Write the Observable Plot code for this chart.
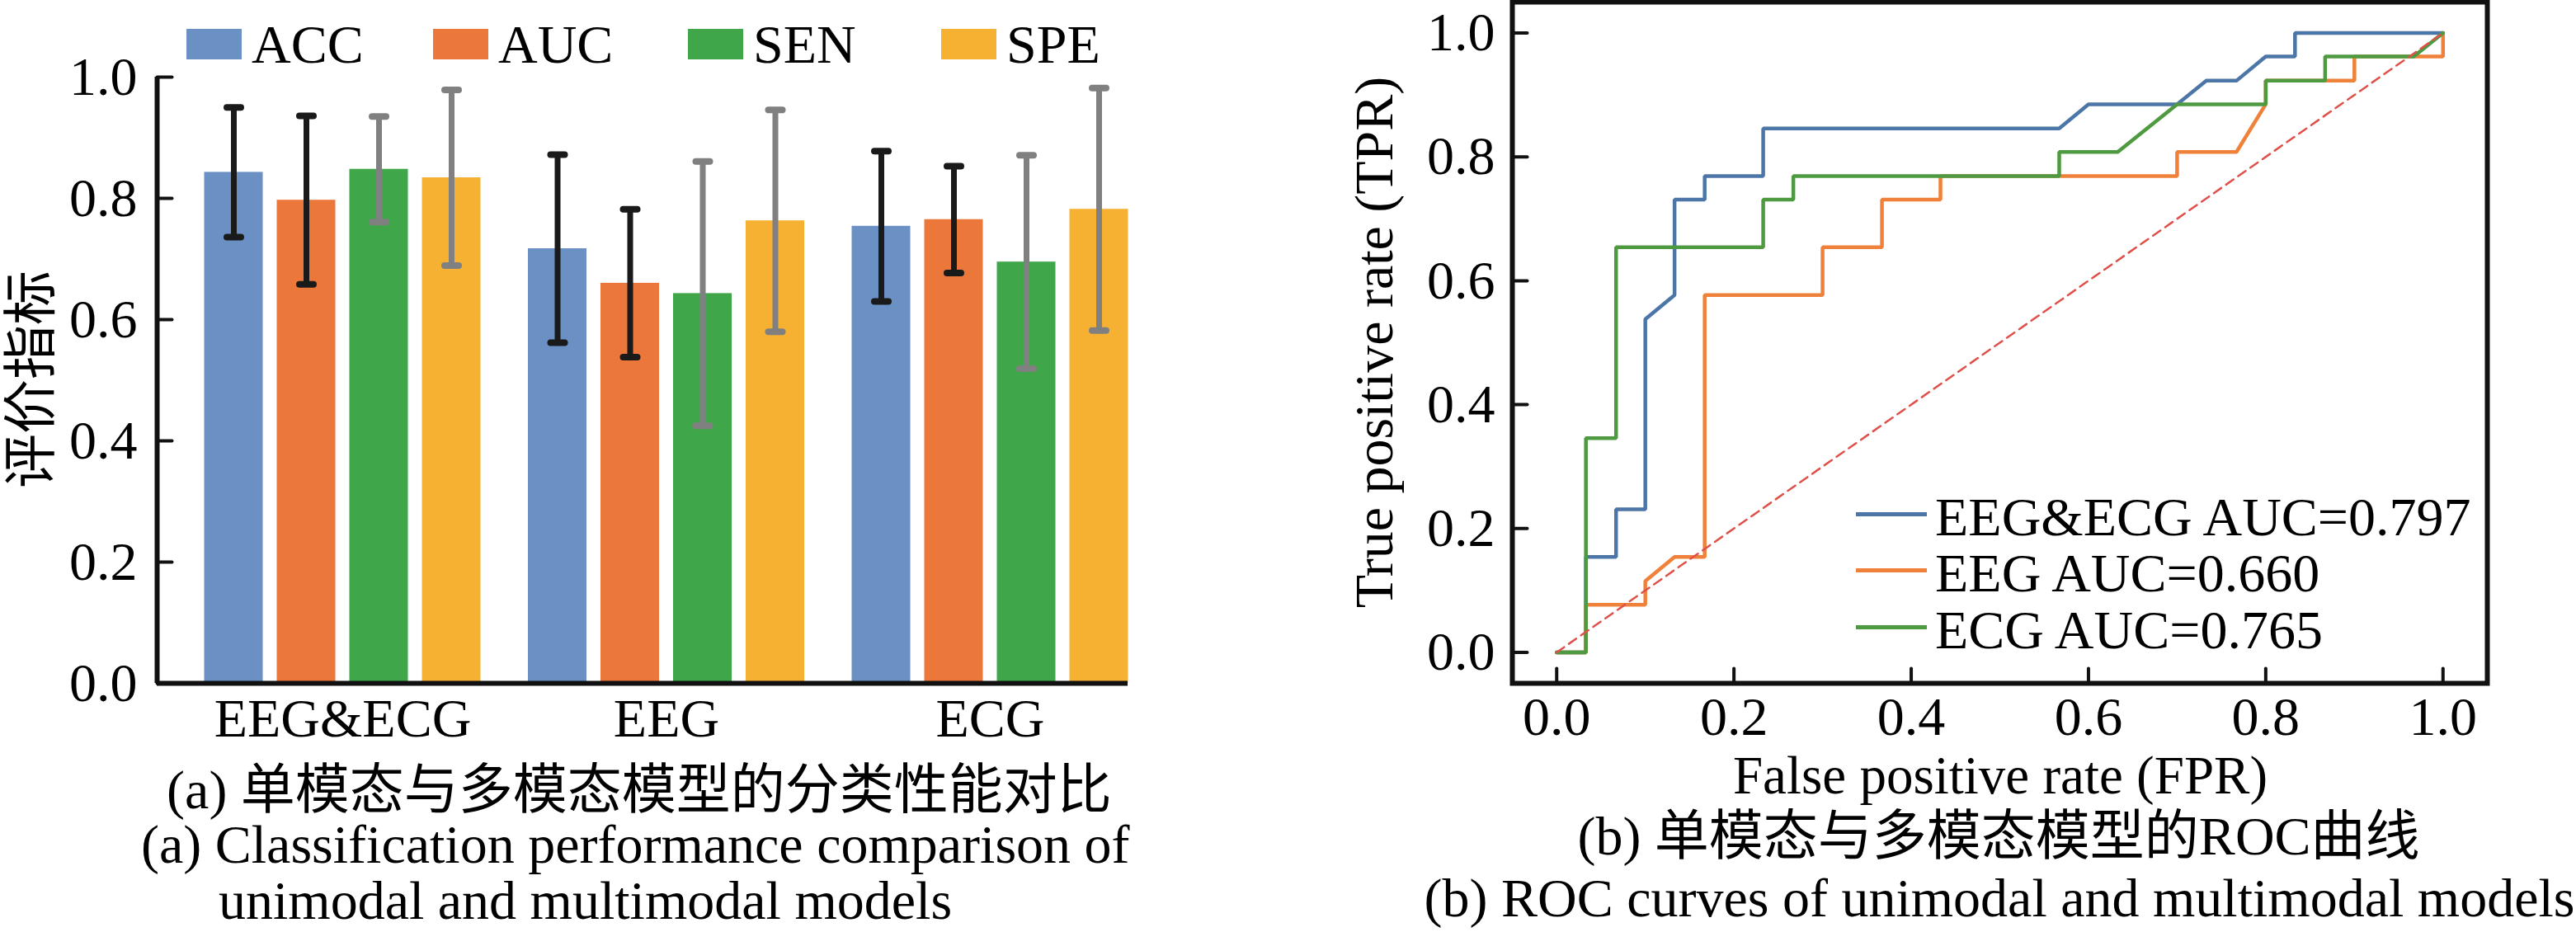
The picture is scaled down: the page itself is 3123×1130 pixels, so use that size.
<!DOCTYPE html>
<html>
<head>
<meta charset="utf-8">
<script src="https://cdn.jsdelivr.net/npm/d3@7"></script>
<script src="https://cdn.jsdelivr.net/npm/@observablehq/plot@0.6"></script>
<style>
html,body{margin:0;padding:0;background:#fff;}
#page{position:relative;width:3123px;height:1130px;overflow:hidden;font-family:"Liberation Serif","Noto Sans CJK SC",serif;color:#000;background:#fff;}
.t{position:absolute;white-space:nowrap;font-size:66px;line-height:50px;}
.chart{position:absolute;top:0;}
.patch{position:absolute;}
</style>
</head>
<body>
<div id="page">
  <div id="left" class="chart" style="left:0px"></div>
  <div id="right" class="chart" style="left:1600px"></div>
</div>
<script>
// ---------------- data: bar chart ----------------
const groups = ["EEG&ECG", "EEG", "ECG"];
const metrics = ["ACC", "AUC", "SEN", "SPE"];
const acc    = [0.843, 0.717, 0.754];
const accErr = [0.107, 0.155, 0.124];
const auc    = [0.797, 0.660, 0.765];
const aucErr = [0.139, 0.122, 0.088];
const sen    = [0.848, 0.643, 0.695];
const senErr = [0.087, 0.218, 0.176];
const spe    = [0.834, 0.763, 0.782];
const speErr = [0.145, 0.183, 0.200];
const barTicks = [0, 0.2, 0.4, 0.6, 0.8, 1.0];

// ---------------- data: ROC curves ----------------
const models = ["EEG&ECG", "EEG", "ECG"];
const aucLabels = ["0.797", "0.660", "0.765"];
const fprEEGECG = [0, 0.033, 0.033, 0.067, 0.067, 0.1, 0.1, 0.133, 0.133, 0.167, 0.167, 0.233, 0.233, 0.567, 0.6, 0.7, 0.733, 0.767, 0.8, 0.833, 0.833, 1.0];
const tprEEGECG = [0, 0, 0.154, 0.154, 0.231, 0.231, 0.538, 0.577, 0.731, 0.731, 0.769, 0.769, 0.846, 0.846, 0.885, 0.885, 0.923, 0.923, 0.962, 0.962, 1.0, 1.0];
const fprEEG = [0, 0.033, 0.033, 0.1, 0.1, 0.133, 0.167, 0.167, 0.3, 0.3, 0.367, 0.367, 0.433, 0.433, 0.7, 0.7, 0.767, 0.8, 0.8, 0.9, 0.9, 1.0, 1.0];
const tprEEG = [0, 0, 0.077, 0.077, 0.115, 0.154, 0.154, 0.577, 0.577, 0.654, 0.654, 0.731, 0.731, 0.769, 0.769, 0.808, 0.808, 0.885, 0.923, 0.923, 0.962, 0.962, 1.0];
const fprECG = [0, 0.033, 0.033, 0.067, 0.067, 0.233, 0.233, 0.267, 0.267, 0.567, 0.567, 0.633, 0.7, 0.8, 0.8, 0.867, 0.867, 0.967, 1.0];
const tprECG = [0, 0, 0.346, 0.346, 0.654, 0.654, 0.731, 0.731, 0.769, 0.769, 0.808, 0.808, 0.885, 0.885, 0.923, 0.923, 0.962, 0.962, 1.0];
const chance = [0, 1];
const rocTicks = [0, 0.2, 0.4, 0.6, 0.8, 1.0];

// ---------------- styles ----------------
const barColors = ["#6b90c3", "#ec773b", "#40a64a", "#f6b133"];
const errColors = ["#1a1a1a", "#1a1a1a", "#808080", "#808080"];
const lineColors = ["#4d76a8", "#f0813a", "#4e9a41"];
const ink = "#111";
const fontStyle = {fontFamily: "'Liberation Serif','Noto Sans CJK SC',serif", fontSize: "66px", color: "#000", background: "transparent", overflow: "visible"};

// straight tick / cap shape for vectors
const lineShape = {draw(context, l) { context.moveTo(0, 0); context.lineTo(0, -l); }};

// ---------------- build bar table ----------------
const series = [acc, auc, sen, spe];
const errs = [accErr, aucErr, senErr, speErr];
const groupStep = 392.5;              // px per group unit
const barStep = 88 / groupStep;       // spacing between bars in a group
const barW = 71 / groupStep;          // bar width
const xDomainL = [-225 / groupStep, 2 + 167 / groupStep];
const barData = [];
groups.forEach((g, gi) => metrics.forEach((m, mi) => {
  const v = series[mi][gi], e = errs[mi][gi];
  const cx = gi + (mi - 1.5) * barStep;
  barData.push({group: g, metric: m, value: v, lo: v - e, hi: v + e, cx, x1: cx - barW / 2, x2: cx + barW / 2, err: errColors[mi]});
}));

const leftPlot = Plot.plot({
  width: 1400, height: 900,
  marginLeft: 190, marginRight: 33, marginTop: 93, marginBottom: 72,
  x: {domain: xDomainL, label: null},
  y: {domain: [0, 1], label: null},
  color: {domain: metrics, range: barColors},
  style: fontStyle,
  marks: [
    Plot.rectY(barData, {x1: "x1", x2: "x2", y1: 0, y2: "value", fill: "metric"}),
    Plot.ruleX(barData, {x: "cx", y1: "lo", y2: "hi", stroke: "err", strokeWidth: 7}),
    Plot.vector(barData, {x: "cx", y: "hi", length: 17, rotate: 90, anchor: "middle", shape: lineShape, stroke: "err", strokeWidth: 8}),
    Plot.vector(barData, {x: "cx", y: "lo", length: 17, rotate: 90, anchor: "middle", shape: lineShape, stroke: "err", strokeWidth: 8}),
    Plot.ruleY([0], {stroke: ink, strokeWidth: 6}),
    Plot.ruleX([xDomainL[0]], {stroke: ink, strokeWidth: 6}),
    Plot.vector(barTicks, {y: d => d, frameAnchor: "left", length: 18, rotate: 90, anchor: "start", shape: lineShape, stroke: ink, strokeWidth: 4}),
    Plot.axisX({ticks: [0, 1, 2], tickFormat: i => groups[i], tickSize: 0, tickPadding: 18, label: null}),
    Plot.axisY({ticks: barTicks, tickFormat: d3.format(".1f"), tickSize: 0, tickPadding: 24, label: null})
  ]
});
document.getElementById("left").appendChild(leftPlot);

// ---------------- build ROC table ----------------
const rocSeries = [[fprEEGECG, tprEEGECG], [fprEEG, tprEEG], [fprECG, tprECG]];
const rocData = [];
rocSeries.forEach(([f, t], k) => f.forEach((x, i) => rocData.push({model: models[k], fpr: x, tpr: t[i]})));

const rightPlot = Plot.plot({
  width: 1523, height: 900,
  marginLeft: 233, marginRight: 108, marginTop: 2, marginBottom: 72,
  x: {domain: [-0.05, 1.05], label: null},
  y: {domain: [-0.05, 1.05], label: null},
  color: {domain: models, range: lineColors},
  style: fontStyle,
  marks: [
    Plot.line(rocData, {x: "fpr", y: "tpr", z: "model", stroke: "model", strokeWidth: 4.5, strokeLinejoin: "miter"}),
    Plot.line(chance, {x: d => d, y: d => d, stroke: "#e0504a", strokeWidth: 2.5, strokeDasharray: "11,7"}),
    Plot.frame({stroke: ink, strokeWidth: 6}),
    Plot.vector(rocTicks, {x: d => d, frameAnchor: "bottom", length: 18, rotate: 0, anchor: "start", shape: lineShape, stroke: ink, strokeWidth: 4}),
    Plot.vector(rocTicks, {y: d => d, frameAnchor: "left", length: 18, rotate: 90, anchor: "start", shape: lineShape, stroke: ink, strokeWidth: 4}),
    Plot.axisX({ticks: rocTicks, tickFormat: d3.format(".1f"), tickSize: 0, tickPadding: 16, label: null}),
    Plot.axisY({ticks: rocTicks, tickFormat: d3.format(".1f"), tickSize: 0, tickPadding: 21, label: null})
  ]
});
document.getElementById("right").appendChild(rightPlot);

// ---------------- HTML text: legends, labels, captions ----------------
const page = document.getElementById("page");
const baseOffset = 47;  // baseline below top for 66px text in a 50px line box
function text(str, x, baseline, align, size) {
  const d = document.createElement("div");
  d.className = "t";
  d.textContent = str;
  if (size) d.style.fontSize = size + "px";
  d.style.top = (baseline - baseOffset) + "px";
  d.style.left = x + "px";
  if (align === "center") d.style.transform = "translateX(-50%)";
  page.appendChild(d);
  return d;
}
function rotText(str, cx, cy) {
  const d = document.createElement("div");
  d.className = "t";
  d.textContent = str;
  d.style.left = cx + "px";
  d.style.top = cy + "px";
  d.style.transform = "translate(-50%,-50%) rotate(-90deg)";
  page.appendChild(d);
}
function patch(x, y, w, h, color) {
  const d = document.createElement("div");
  d.className = "patch";
  Object.assign(d.style, {left: x + "px", top: y + "px", width: w + "px", height: h + "px", background: color});
  page.appendChild(d);
}

// bar legend
const legendX = [226, 525, 834, 1141];
metrics.forEach((m, i) => {
  patch(legendX[i], 35, 67, 37, barColors[i]);
  text(m, legendX[i] + 79, 76);
});

// ROC legend
const rocLegendY = [649, 717, 786];
models.forEach((m, i) => {
  patch(2250, rocLegendY[i] - 28, 86, 5, lineColors[i]);
  text(`${m} AUC=${aucLabels[i]}`, 2346, rocLegendY[i]);
});

// axis titles
rotText("评价指标", 38, 460);
rotText("True positive rate (TPR)", 1666, 415);
text("False positive rate (FPR)", 2425, 962, "center", 65);

// captions
text("(a) 单模态与多模态模型的分类性能对比", 775, 980, "center");
text("(a) Classification performance comparison of", 171, 1046);
text("unimodal and multimodal models", 265, 1114);
text("(b) 单模态与多模态模型的ROC曲线", 2423, 1036, "center");
text("(b) ROC curves of unimodal and multimodal models", 2424, 1111, "center");
</script>
</body>
</html>
